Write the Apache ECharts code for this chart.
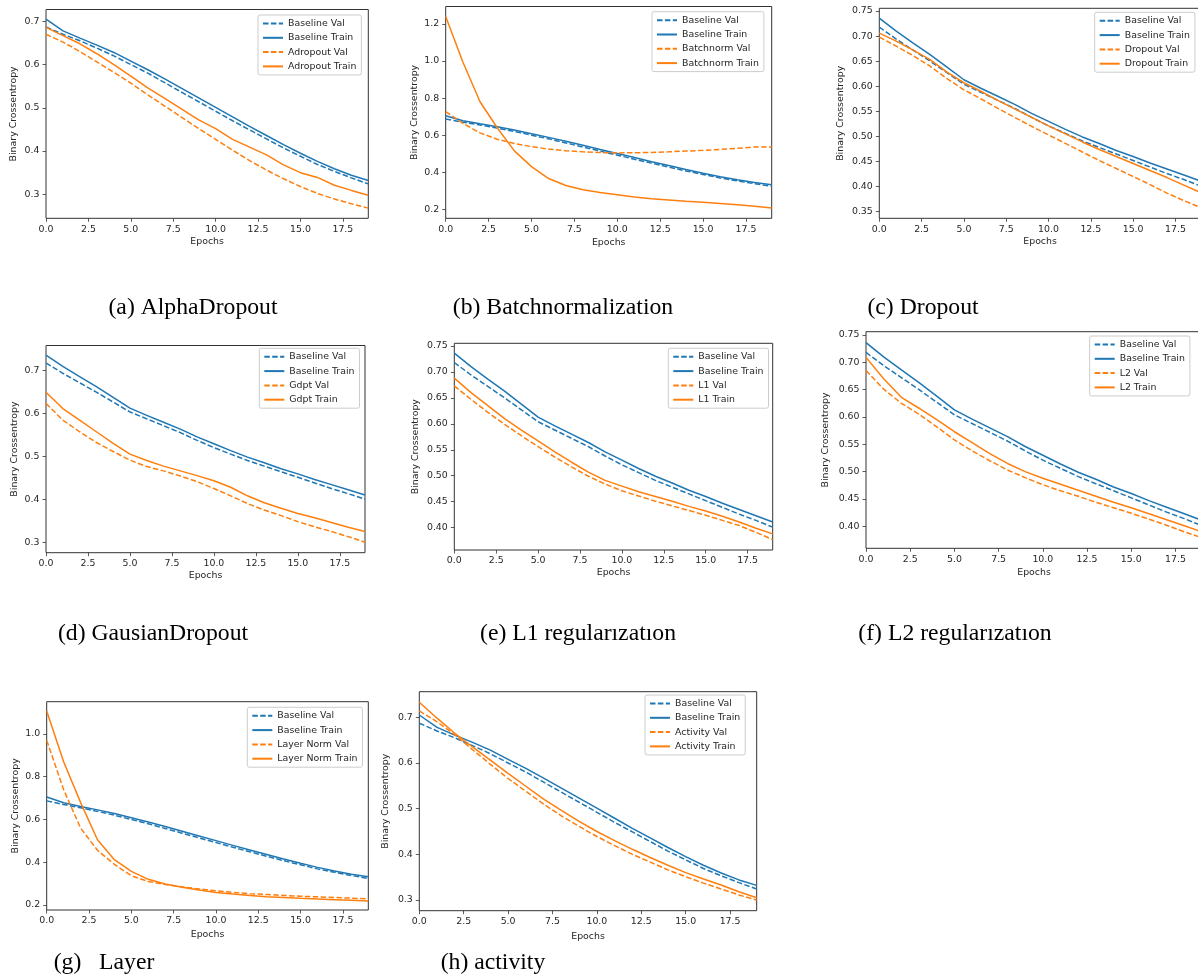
<!DOCTYPE html>
<html>
<head>
<meta charset="utf-8">
<script src="https://cdn.jsdelivr.net/npm/echarts@6/dist/echarts.min.js"></script>
<style>
html, body { margin: 0; padding: 0; background: #fff; }
#main { width: 1198px; height: 980px; }
</style>
</head>
<body>
<div id="main"></div>
<script>
// epochs and tick values
var epochs = [0, 1, 2, 3, 4, 5, 6, 7, 8, 9, 10, 11, 12, 13, 14, 15, 16, 17, 18, 19];
var xTicks = [0, 2.5, 5, 7.5, 10, 12.5, 15, 17.5];

// baseline runs (two different baselines appear in the figure)
var baselineValA   = [0.687, 0.670, 0.655, 0.638, 0.620, 0.600, 0.580, 0.558, 0.536, 0.514, 0.492, 0.470, 0.449, 0.428, 0.407, 0.388, 0.369, 0.353, 0.338, 0.324];
var baselineTrainA = [0.705, 0.678, 0.661, 0.645, 0.628, 0.608, 0.588, 0.567, 0.545, 0.523, 0.501, 0.479, 0.457, 0.436, 0.415, 0.395, 0.376, 0.359, 0.344, 0.332];
var baselineValB   = [0.718, 0.694, 0.672, 0.650, 0.627, 0.604, 0.588, 0.572, 0.556, 0.538, 0.521, 0.506, 0.491, 0.478, 0.465, 0.452, 0.439, 0.426, 0.414, 0.401];
var baselineTrainB = [0.736, 0.710, 0.686, 0.663, 0.638, 0.613, 0.596, 0.580, 0.564, 0.546, 0.530, 0.514, 0.499, 0.486, 0.472, 0.460, 0.447, 0.435, 0.423, 0.411];

// regularised runs
var adropoutVal    = [0.670, 0.652, 0.630, 0.606, 0.582, 0.557, 0.530, 0.504, 0.478, 0.452, 0.427, 0.402, 0.378, 0.356, 0.336, 0.318, 0.302, 0.289, 0.278, 0.268];
var adropoutTrain  = [0.686, 0.667, 0.648, 0.625, 0.600, 0.573, 0.546, 0.522, 0.497, 0.472, 0.452, 0.427, 0.409, 0.391, 0.368, 0.350, 0.339, 0.321, 0.309, 0.298];
var batchnormVal   = [0.727, 0.664, 0.612, 0.578, 0.555, 0.538, 0.525, 0.516, 0.510, 0.506, 0.504, 0.505, 0.507, 0.510, 0.514, 0.518, 0.523, 0.529, 0.536, 0.536];
var batchnormTrain = [1.240, 0.995, 0.780, 0.640, 0.515, 0.430, 0.366, 0.328, 0.305, 0.290, 0.278, 0.266, 0.257, 0.250, 0.243, 0.238, 0.231, 0.224, 0.216, 0.207];
var dropoutVal     = [0.698, 0.680, 0.661, 0.640, 0.615, 0.593, 0.575, 0.556, 0.538, 0.520, 0.503, 0.486, 0.469, 0.452, 0.436, 0.420, 0.404, 0.387, 0.372, 0.358];
var dropoutTrain   = [0.706, 0.690, 0.672, 0.653, 0.628, 0.607, 0.590, 0.572, 0.555, 0.538, 0.521, 0.505, 0.489, 0.474, 0.460, 0.446, 0.432, 0.418, 0.403, 0.388];
var gdptVal        = [0.624, 0.585, 0.558, 0.533, 0.512, 0.492, 0.477, 0.467, 0.455, 0.442, 0.426, 0.409, 0.391, 0.376, 0.363, 0.349, 0.337, 0.326, 0.314, 0.301];
var gdptTrain      = [0.650, 0.612, 0.585, 0.558, 0.531, 0.506, 0.491, 0.478, 0.467, 0.456, 0.444, 0.429, 0.409, 0.393, 0.380, 0.368, 0.358, 0.347, 0.336, 0.326];
var l1Val          = [0.673, 0.647, 0.622, 0.599, 0.577, 0.556, 0.536, 0.517, 0.499, 0.484, 0.471, 0.461, 0.451, 0.442, 0.433, 0.424, 0.414, 0.404, 0.391, 0.377];
var l1Train        = [0.688, 0.660, 0.635, 0.610, 0.588, 0.567, 0.546, 0.526, 0.507, 0.491, 0.480, 0.469, 0.460, 0.451, 0.441, 0.432, 0.422, 0.411, 0.399, 0.388];
var l2Val          = [0.685, 0.651, 0.625, 0.605, 0.582, 0.558, 0.538, 0.520, 0.503, 0.489, 0.476, 0.465, 0.455, 0.444, 0.434, 0.424, 0.413, 0.402, 0.390, 0.379];
var l2Train        = [0.709, 0.670, 0.636, 0.616, 0.595, 0.573, 0.553, 0.533, 0.515, 0.500, 0.488, 0.477, 0.466, 0.455, 0.444, 0.434, 0.423, 0.412, 0.401, 0.390];
var layerNormVal   = [0.970, 0.740, 0.560, 0.456, 0.390, 0.337, 0.310, 0.296, 0.285, 0.275, 0.266, 0.259, 0.253, 0.249, 0.245, 0.241, 0.238, 0.235, 0.232, 0.229];
var layerNormTrain = [1.108, 0.870, 0.680, 0.505, 0.412, 0.357, 0.320, 0.298, 0.283, 0.270, 0.259, 0.251, 0.244, 0.239, 0.235, 0.231, 0.228, 0.225, 0.222, 0.219];
var activityVal    = [0.714, 0.690, 0.662, 0.629, 0.597, 0.566, 0.538, 0.510, 0.484, 0.461, 0.439, 0.419, 0.400, 0.383, 0.366, 0.351, 0.337, 0.324, 0.311, 0.300];
var activityTrain  = [0.733, 0.698, 0.665, 0.635, 0.606, 0.577, 0.549, 0.521, 0.496, 0.472, 0.450, 0.430, 0.411, 0.393, 0.376, 0.360, 0.346, 0.333, 0.318, 0.305];

// y tick labels
var yTicksTenths  = [0.3, 0.4, 0.5, 0.6, 0.7];
var yTicksBatch   = [0.2, 0.4, 0.6, 0.8, 1.0, 1.2];
var yTicksDropout = [0.35, 0.40, 0.45, 0.50, 0.55, 0.60, 0.65, 0.70, 0.75];
var yTicksReg     = [0.40, 0.45, 0.50, 0.55, 0.60, 0.65, 0.70, 0.75];
var yTicksLayer   = [0.2, 0.4, 0.6, 0.8, 1.0];

var BLUE = '#1f77b4', ORANGE = '#ff7f0e', INK = '#262626';
var FONT = 'DejaVu Sans';

// one entry per subplot: data + where it sits on the page
var panels = [
  { tag: 'Adropout', val: adropoutVal, train: adropoutTrain, bVal: baselineValA, bTrain: baselineTrainA,
    yTicks: yTicksTenths, dec: 1, yMin: 0.2445, yMax: 0.7273,
    box: [46, 9.5, 322.3, 208.8], yGap: 27.5, xGap: 19, leg: [258, 15],
    cap: '(a) AlphaDropout', capPos: [193, 308] },
  { tag: 'Batchnorm', val: batchnormVal, train: batchnormTrain, bVal: baselineValA, bTrain: baselineTrainA,
    yTicks: yTicksBatch, dec: 1, yMin: 0.1514, yMax: 1.294,
    box: [445.7, 6.5, 326, 211.8], yGap: 27, xGap: 19.5, leg: [652, 11.7],
    cap: '(b) Batchnormalization', capPos: [563, 308] },
  { tag: 'Dropout', val: dropoutVal, train: dropoutTrain, bVal: baselineValB, bTrain: baselineTrainB,
    yTicks: yTicksDropout, dec: 2, yMin: 0.3368, yMax: 0.7554,
    box: [879.3, 8.3, 321.5, 210], yGap: 34, xGap: 19, leg: [1094.7, 12.3],
    cap: '(c) Dropout', capPos: [923, 308] },
  { tag: 'Gdpt', val: gdptVal, train: gdptTrain, bVal: baselineValB, bTrain: baselineTrainB,
    yTicks: yTicksTenths, dec: 1, yMin: 0.2767, yMax: 0.7586,
    box: [46, 345.5, 319, 207.2], yGap: 27, xGap: 18.5, leg: [259.3, 348.3],
    cap: '(d) GausianDropout', capPos: [153, 634] },
  { tag: 'L1', val: l1Val, train: l1Train, bVal: baselineValB, bTrain: baselineTrainB,
    yTicks: yTicksReg, dec: 2, yMin: 0.357, yMax: 0.755,
    box: [454.3, 343.3, 318.4, 206.7], yGap: 34, xGap: 18, leg: [668.3, 348.3],
    cap: '(e) L1 regularızatıon', capPos: [578, 634] },
  { tag: 'L2', val: l2Val, train: l2Train, bVal: baselineValB, bTrain: baselineTrainB,
    yTicks: yTicksReg, dec: 2, yMin: 0.3598, yMax: 0.756,
    box: [866, 331.7, 336, 216.6], yGap: 35.5, xGap: 19.5, leg: [1089.7, 336],
    cap: '(f) L2 regularızatıon', capPos: [955, 634] },
  { tag: 'Layer Norm', val: layerNormVal, train: layerNormTrain, bVal: baselineValA, bTrain: baselineTrainA,
    yTicks: yTicksLayer, dec: 1, yMin: 0.1766, yMax: 1.151,
    box: [46.7, 701.7, 321.6, 208.3], yGap: 27, xGap: 20.5, leg: [247.3, 707.3],
    cap: '(g)   Layer', capPos: [104, 963] },
  { tag: 'Activity', val: activityVal, train: activityTrain, bVal: baselineValA, bTrain: baselineTrainA,
    yTicks: yTicksTenths, dec: 1, yMin: 0.2766, yMax: 0.756,
    box: [419.3, 691.7, 337.4, 219], yGap: 29, xGap: 21, leg: [645, 695],
    cap: '(h) activity', capPos: [493, 963] }
];

function pairs(ys) {
  return epochs.map(function (x, i) { return [x, ys[i]]; });
}

var DASH = [5.5, 2.4];
var grids = [], xAxes = [], yAxes = [], series = [], legends = [], graphics = [];

panels.forEach(function (p, i) {
  grids.push({
    left: p.box[0], top: p.box[1], width: p.box[2], height: p.box[3],
    show: true, borderColor: '#333', borderWidth: 1, backgroundColor: 'transparent',
    containLabel: false, outerBoundsMode: 'none'
  });
  var tickStyle = { show: true, length: 3.5, lineStyle: { color: '#333', width: 0.8 } };
  xAxes.push({
    type: 'value', gridIndex: i, min: 0, max: 19,
    axisLine: { show: false, onZero: false },
    axisTick: Object.assign({ customValues: xTicks }, tickStyle),
    axisLabel: { customValues: xTicks, margin: 6.5, fontSize: 9.4, color: INK, fontFamily: FONT,
      formatter: function (v) { return v.toFixed(1); } },
    splitLine: { show: false },
    name: 'Epochs', nameLocation: 'middle', nameGap: p.xGap,
    nameTextStyle: { fontSize: 9.4, color: INK, fontFamily: FONT }
  });
  yAxes.push({
    type: 'value', gridIndex: i, min: p.yMin, max: p.yMax,
    axisLine: { show: false, onZero: false },
    axisTick: Object.assign({ customValues: p.yTicks }, tickStyle),
    axisLabel: { customValues: p.yTicks, margin: 6.5, fontSize: 9.4, color: INK, fontFamily: FONT,
      formatter: (function (d) { return function (v) { return v.toFixed(d); }; })(p.dec) },
    splitLine: { show: false },
    name: 'Binary Crossentropy', nameLocation: 'middle', nameGap: p.yGap,
    nameTextStyle: { fontSize: 9.4, color: INK, fontFamily: FONT }
  });

  var names = ['Baseline Val', 'Baseline Train', p.tag + ' Val', p.tag + ' Train'];
  var sets = [p.bVal, p.bTrain, p.val, p.train];
  var colors = [BLUE, BLUE, ORANGE, ORANGE];
  sets.forEach(function (ys, k) {
    series.push({
      type: 'line', name: names[k], xAxisIndex: i, yAxisIndex: i,
      data: pairs(ys), symbol: 'none', clip: true, silent: true,
      lineStyle: { color: colors[k], width: 1.5, type: k % 2 === 0 ? DASH : 'solid' },
      itemStyle: { color: colors[k] }
    });
  });

  // legend: line sample only, the marker is made invisible
  legends.push({
    data: names, orient: 'vertical', left: p.leg[0], top: p.leg[1],
    itemWidth: 20, itemHeight: 9, itemGap: 5.3, padding: [4, 5, 4, 4],
    borderColor: '#cccccc', borderWidth: 1, borderRadius: 2,
    backgroundColor: 'rgba(255,255,255,0.8)', selectedMode: false,
    itemStyle: { color: 'rgba(0,0,0,0)', borderColor: 'rgba(0,0,0,0)', borderWidth: 0, opacity: 0 },
    textStyle: { fontSize: 9.4, color: INK, fontFamily: FONT }
  });

  graphics.push({
    type: 'text', x: p.capPos[0], y: p.capPos[1],
    style: { text: p.cap, fontSize: 23.7, fontFamily: 'Liberation Serif', fill: '#000',
      align: 'center', verticalAlign: 'middle', textAlign: 'center', textVerticalAlign: 'middle' }
  });
});

var myChart = echarts.init(document.getElementById('main'));
myChart.setOption({
  animation: false,
  backgroundColor: '#fff',
  textStyle: { fontFamily: FONT },
  grid: grids,
  xAxis: xAxes,
  yAxis: yAxes,
  legend: legends,
  series: series,
  graphic: graphics
});
</script>
</body>
</html>
